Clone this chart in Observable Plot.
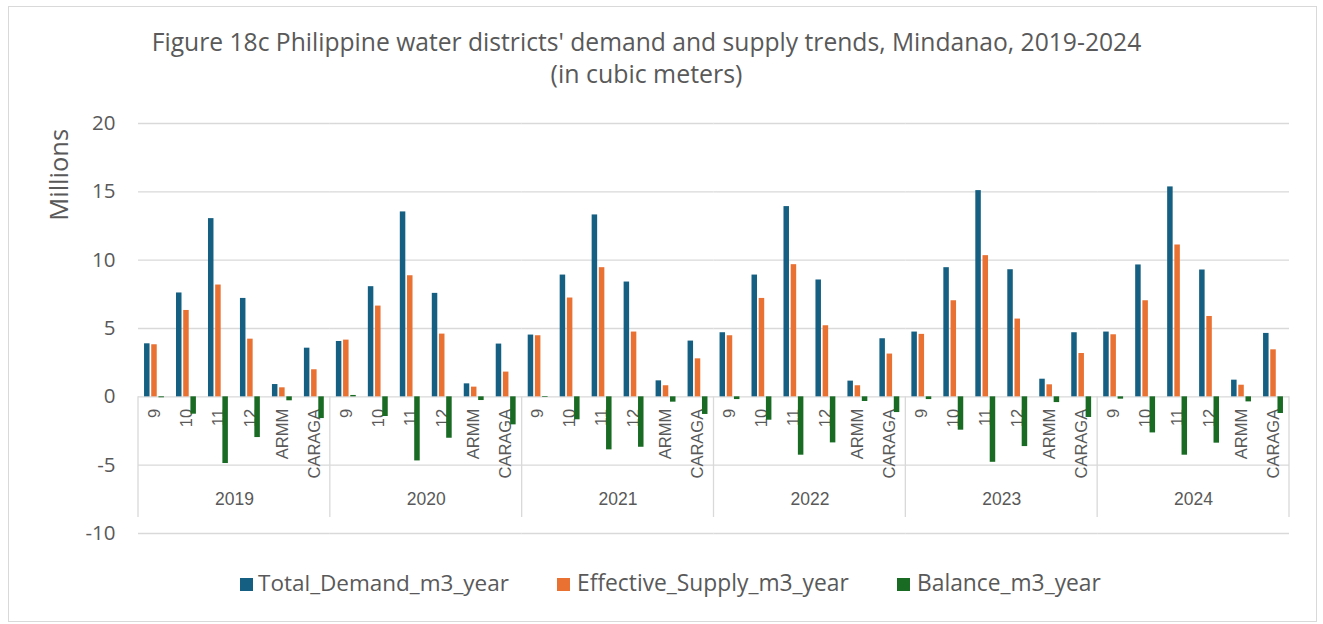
<!DOCTYPE html>
<html>
<head>
<meta charset="utf-8">
<script src="https://cdn.jsdelivr.net/npm/d3@7"></script>
<script src="https://cdn.jsdelivr.net/npm/@observablehq/plot@0.6"></script>
<style>
  html, body { margin: 0; padding: 0; background: #fff; }
  body { width: 1323px; height: 624px; position: relative; overflow: hidden; font-family: "Open Sans", sans-serif; color: #595959; }
  #frame { position: absolute; left: 8px; top: 6px; width: 1309px; height: 616px; border: 1px solid #d9d9d9; box-sizing: border-box; }
  .tline { position: absolute; left: 0; width: 1293px; text-align: center; white-space: nowrap; font-size: 21px; line-height: 1; }
  .tline span { display: inline-block; }
  #ylabel { position: absolute; white-space: nowrap; font-size: 22px; line-height: 1; transform-origin: center center; }
  #chart { position: absolute; left: 0; top: 100px; }
  .sw { position: absolute; width: 13px; height: 13px; top: 578px; }
  .lt { position: absolute; top: 572px; white-space: nowrap; font-size: 21px; line-height: 1; }
</style>
</head>
<body>
<div id="frame"></div>
<div class="tline" id="t1" style="top:30px"><span></span></div>
<div class="tline" id="t2" style="top:61px"><span></span></div>
<div id="ylabel"></div>
<div id="chart"></div>
<div id="legend"></div>
<script>
// ---- data (values in millions of cubic meters) ----
const titleLines = ["Figure 18c Philippine water districts' demand and supply trends, Mindanao, 2019-2024", "(in cubic meters)"];
const yLabel = "Millions";
const years = ["2019", "2020", "2021", "2022", "2023", "2024"];
const regions = ["9", "10", "11", "12", "ARMM", "CARAGA"];
const seriesNames = ["Total_Demand_m3_year", "Effective_Supply_m3_year", "Balance_m3_year"];
const seriesColors = ["#156082", "#E97132", "#196B24"];
const yTicks = [-10, -5, 0, 5, 10, 15, 20];

const totalDemand = [
  [3.88, 7.60, 13.04, 7.20, 0.90, 3.56],
  [4.05, 8.06, 13.53, 7.57, 0.95, 3.86],
  [4.52, 8.91, 13.31, 8.40, 1.17, 4.08],
  [4.69, 8.91, 13.92, 8.55, 1.15, 4.25],
  [4.74, 9.45, 15.09, 9.30, 1.29, 4.69],
  [4.74, 9.65, 15.36, 9.28, 1.22, 4.64]
];
const effectiveSupply = [
  [3.81, 6.32, 8.18, 4.22, 0.66, 1.98],
  [4.15, 6.64, 8.86, 4.59, 0.71, 1.81],
  [4.47, 7.23, 9.45, 4.74, 0.81, 2.78],
  [4.47, 7.20, 9.67, 5.20, 0.81, 3.13],
  [4.57, 7.03, 10.33, 5.69, 0.88, 3.17],
  [4.54, 7.03, 11.11, 5.88, 0.85, 3.44]
];
const balance = [
  [-0.07, -1.27, -4.88, -2.98, -0.29, -1.59],
  [0.10, -1.44, -4.69, -3.03, -0.27, -2.05],
  [-0.05, -1.68, -3.88, -3.69, -0.39, -1.29],
  [-0.20, -1.71, -4.27, -3.37, -0.34, -1.15],
  [-0.20, -2.44, -4.79, -3.64, -0.42, -1.51],
  [-0.17, -2.64, -4.27, -3.39, -0.37, -1.22]
];

// ---- build table ----
const seriesValues = [totalDemand, effectiveSupply, balance];
const rows = [];
const labelRows = [];
years.forEach((yr, i) => regions.forEach((rg, j) => {
  labelRows.push({year: yr, region: rg});
  seriesNames.forEach((s, k) => rows.push({year: yr, region: rg, series: s, k, value: seriesValues[k][i][j]}));
}));

// ---- layout ----
const W = 1323, H = 450, ML = 138, MR = 34, MT = 23, MB = 17;
const bw = (W - ML - MR) / years.length / regions.length;
const barW = 5.5, step = 7.2, start = (bw - (2 * step + barW)) / 2;
const grey = "#d9d9d9";

const barMarks = seriesNames.map((s, k) => Plot.barY(rows.filter(d => d.k === k), {
  fx: "year", x: "region", y: "value", fill: seriesColors[k],
  insetLeft: start + k * step, insetRight: bw - (start + k * step) - barW
}));

const plot = Plot.plot({
  width: W, height: H,
  marginLeft: ML, marginRight: MR, marginTop: MT, marginBottom: MB,
  style: {fontFamily: "'Open Sans', sans-serif", fontSize: "20.5px", color: "#595959", background: "transparent", overflow: "visible"},
  fx: {domain: years, padding: 0, round: false, axis: null, label: null},
  x: {domain: regions, padding: 0, round: false, axis: null, label: null},
  y: {domain: [-10, 20], ticks: yTicks, tickSize: 0, tickPadding: 23, label: null, tickFormat: d => String(d)},
  marks: [
    Plot.ruleY(yTicks, {stroke: grey, strokeWidth: 1.3}),
    Plot.text(labelRows, {fx: "year", x: "region", y: () => 0, text: "region", rotate: -90, textAnchor: "end", dy: 12,
      fontSize: 16.5, fontFamily: "'Liberation Sans', Arial, sans-serif", fill: "#595959"}),
    Plot.text(years, {fx: d => d, text: d => d, frameAnchor: "bottom", dy: -29,
      fontSize: 17.5, fontFamily: "'Liberation Sans', Arial, sans-serif", fill: "#595959"}),
    ...barMarks
  ]
});
document.getElementById("chart").appendChild(plot);

// year separators on the category axis, placed through the plot's own scales
const fxS = plot.scale("fx"), yS = plot.scale("y");
const y0 = yS.apply(0), yB = yS.apply(-10) - 16;
const sepX = years.map(y => fxS.apply(y)).concat([fxS.apply(years[years.length - 1]) + fxS.bandwidth]);
d3.select(plot).append("g").selectAll("line").data(sepX).join("line")
  .attr("x1", d => d).attr("x2", d => d).attr("y1", y0).attr("y2", yB)
  .attr("stroke", grey).attr("stroke-width", 1.3);

// ---- text helpers: fit text to reference widths ----
function fitWidth(el, target) {
  const w = el.getBoundingClientRect().width;
  const fs = parseFloat(getComputedStyle(el).fontSize);
  if (w > 0) el.style.fontSize = (fs * target / w) + "px";
}
const t1 = document.querySelector("#t1 span"), t2 = document.querySelector("#t2 span");
t1.textContent = titleLines[0]; t2.textContent = titleLines[1];
fitWidth(t1, 990); fitWidth(t2, 192);

const yl = document.getElementById("ylabel");
yl.textContent = yLabel;
fitWidth(yl, 92);
const r = yl.getBoundingClientRect();
yl.style.left = (59 - r.width / 2) + "px";
yl.style.top = (175 - r.height / 2) + "px";
yl.style.transform = "rotate(-90deg)";

// ---- legend ----
const legendSw = [240, 557, 897], legendTx = [258, 577, 917], legendW = [251, 272, 184];
const lg = document.getElementById("legend");
seriesNames.forEach((s, k) => {
  const sw = document.createElement("div");
  sw.className = "sw"; sw.style.left = legendSw[k] + "px"; sw.style.background = seriesColors[k];
  lg.appendChild(sw);
  const tx = document.createElement("div");
  tx.className = "lt"; tx.style.left = legendTx[k] + "px"; tx.textContent = s;
  lg.appendChild(tx);
  fitWidth(tx, legendW[k]);
});
</script>
</body>
</html>
